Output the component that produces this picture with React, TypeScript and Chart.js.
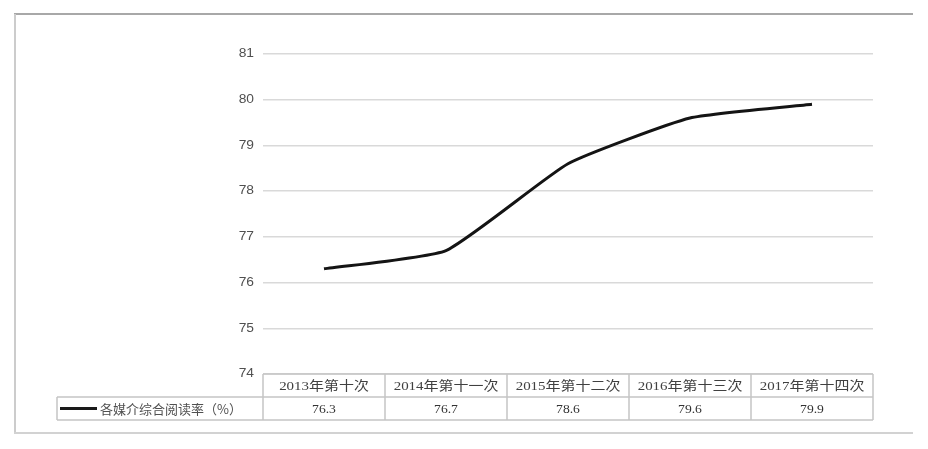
import React, { useEffect, useRef } from 'react';
import { Chart, registerables } from 'chart.js';

Chart.register(...registerables);

const categories = ['2013年第十次', '2014年第十一次', '2015年第十二次', '2016年第十三次', '2017年第十四次'];
const readingRate = [76.3, 76.7, 78.6, 79.6, 79.9];
const seriesLabel = '各媒介综合阅读率（%）';
const yMin = 74;
const yMax = 81;
const yStep = 1;

function drawText(ctx: CanvasRenderingContext2D, text: string, x: number, y: number, align: CanvasTextAlign, sx: number) {
  ctx.save();
  ctx.translate(x, y);
  ctx.scale(sx, 1);
  ctx.textAlign = align;
  ctx.textBaseline = 'middle';
  ctx.fillText(text, 0, 0);
  ctx.restore();
}

function line(ctx: CanvasRenderingContext2D, x1: number, y1: number, x2: number, y2: number) {
  ctx.beginPath();
  ctx.moveTo(x1, y1);
  ctx.lineTo(x2, y2);
  ctx.stroke();
}

const tablePlugin = {
  id: 'dataTable',
  afterDraw(chart: any) {
    const ctx: CanvasRenderingContext2D = chart.ctx;
    const area = chart.chartArea;
    const xs = chart.scales.x;
    const ys = chart.scales.y;
    const n = categories.length;
    const colW = (area.right - area.left) / n;
    const rowH = 23;
    const r0 = area.bottom;
    const r1 = r0 + rowH;
    const r2 = r1 + rowH;
    const legendLeft = 57;

    ctx.save();
    // outer frame
    ctx.lineWidth = 2;
    ctx.strokeStyle = '#a8a8a8';
    line(ctx, 14, 14, 913, 14);
    ctx.strokeStyle = '#cccccc';
    line(ctx, 15, 14, 15, 433);
    ctx.strokeStyle = '#d2d2d2';
    line(ctx, 14, 433, 913, 433);

    // y tick labels
    ctx.fillStyle = '#505050';
    ctx.font = "12px 'Liberation Sans', Arial, sans-serif";
    ys.ticks.forEach((t: any) => {
      const y = ys.getPixelForValue(t.value);
      drawText(ctx, String(t.value), area.left - 9, y, 'right', 1.15);
    });

    // table grid
    ctx.strokeStyle = '#c4c4c4';
    ctx.lineWidth = 1.5;
    line(ctx, area.left, r0, area.right, r0);
    line(ctx, legendLeft, r1, area.right, r1);
    line(ctx, legendLeft, r2, area.right, r2);
    line(ctx, legendLeft, r1, legendLeft, r2);
    for (let i = 0; i <= n; i++) {
      const x = area.left + i * colW;
      line(ctx, x, r0, x, r2);
    }

    // category labels
    ctx.fillStyle = '#404040';
    ctx.font = "13px 'Liberation Serif', 'Noto Sans CJK SC', serif";
    categories.forEach((c, i) => {
      const x = xs.getPixelForValue(i);
      drawText(ctx, c, x, (r0 + r1) / 2 + 1, 'center', 1.15);
    });

    // values
    ctx.fillStyle = '#333333';
    ctx.font = "13px 'Liberation Serif', serif";
    readingRate.forEach((v, i) => {
      const x = xs.getPixelForValue(i);
      drawText(ctx, v.toFixed(1), x, (r1 + r2) / 2 + 1, 'center', 1.05);
    });

    // legend key
    ctx.strokeStyle = '#1a1a1a';
    ctx.lineWidth = 3;
    line(ctx, 60, (r1 + r2) / 2, 97, (r1 + r2) / 2);
    ctx.fillStyle = '#505050';
    ctx.font = "13px 'Noto Sans CJK SC', sans-serif";
    drawText(ctx, seriesLabel, 100, (r1 + r2) / 2 + 1, 'left', 1.0);
    ctx.restore();
  },
};

export default function App() {
  const canvasRef = useRef<HTMLCanvasElement>(null);

  useEffect(() => {
    document.body.style.margin = '0';
    const canvas = canvasRef.current;
    if (!canvas) return;
    const chart = new Chart(canvas, {
      type: 'line',
      data: {
        labels: categories,
        datasets: [
          {
            label: seriesLabel,
            data: readingRate,
            borderColor: '#141414',
            borderWidth: 3,
            pointRadius: 0,
            tension: 0.15,
            fill: false,
          },
        ],
      },
      options: {
        responsive: false,
        animation: false,
        layout: { padding: { left: 263, right: 55, top: 54, bottom: 75 } },
        plugins: { legend: { display: false }, tooltip: { enabled: false } },
        scales: {
          x: { type: 'category', offset: true, display: false },
          y: {
            min: yMin,
            max: yMax,
            ticks: { stepSize: yStep, display: false },
            border: { display: false },
            grid: { color: '#d9d9d9', lineWidth: 1.5, drawTicks: false },
          },
        },
      },
      plugins: [tablePlugin],
    });
    return () => chart.destroy();
  }, []);

  return (
    <div style={{ position: 'absolute', left: 0, top: 0, width: 928, height: 449, background: '#fff' }}>
      <canvas ref={canvasRef} width={928} height={449} style={{ display: 'block', width: 928, height: 449 }} />
    </div>
  );
}
